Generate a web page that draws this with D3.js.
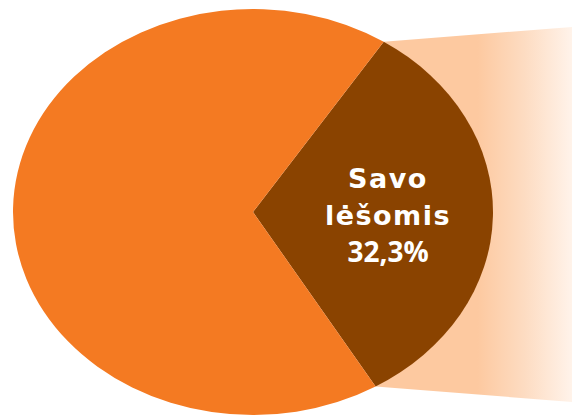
<!DOCTYPE html>
<html>
<head>
	<meta charset="utf-8">
	<title></title>
	<style type="text/css">
		body {
			margin: 0;
			background-color: #fff;
		}
		.viz {
			display: block;
		}
	</style>
</head>
<body>
	<svg class="viz" width="572" height="417"></svg>

	<script src="https://cdn.jsdelivr.net/npm/d3@7/dist/d3.min.js" charset="utf-8"></script>
	<script type="text/javascript">

		// data
		var categories = ['Savo lėšomis', 'Kita'];
		var values = [32.3, 67.7];
		var labelLines = ['Savo', 'lėšomis', '32,3%'];
		var colors = ['#8a4300', '#f47a22'];

		var canvas = d3.select('.viz');
		var width = 572, height = 417;
		var cx = 253, cy = 212;	// pie centre
		var rx = 240, ry = 203;	// ellipse radii
		var start = 33 * Math.PI / 180;	// first slice starts here (clockwise from top)

		var pie = d3.pie().sort(null).startAngle(start).endAngle(start + 2 * Math.PI);
		var arcs = pie(values);
		var arc = d3.arc().innerRadius(0).outerRadius(rx);

		// point on ellipse edge for a pie angle
		var edge = function(a) {
			return [cx + rx * Math.sin(a), cy - ry * Math.cos(a)];
		};

		// gradient band behind the highlighted slice
		var defs = canvas.append('defs');
		var grad = defs.append('linearGradient')
			.attr('id', 'fade')
			.attr('gradientUnits', 'userSpaceOnUse')
			.attr('x1', 375).attr('x2', width)
			.attr('y1', 0).attr('y2', 0);
		grad.append('stop').attr('offset', '0.52').attr('stop-color', '#fdc9a0');
		grad.append('stop').attr('offset', '0.76').attr('stop-color', '#fddcc2');
		grad.append('stop').attr('offset', '1').attr('stop-color', '#fff3ea');

		var p0 = edge(arcs[0].startAngle), p1 = edge(arcs[0].endAngle);
		canvas.append('polygon')
			.attr('fill', 'url(#fade)')
			.attr('points', [p0, [width, 27], [width, 402], p1].map(function(p) {
				return p.join(',');
			}).join(' '));

		// the pie, squashed into an ellipse
		var g = canvas.append('g')
			.attr('transform', 'translate(' + cx + ',' + cy + ') scale(1,' + (ry / rx) + ')');

		g.selectAll('path').data(arcs)
			.enter().append('path')
				.attr('d', arc)
				.attr('fill', function(d, i) {
					return colors[i];
				});

		// label: words are wide, the number is narrower
		canvas.append('text')
			.attr('x', 388)
			.attr('y', 188)
			.attr('text-anchor', 'middle')
			.attr('fill', '#fff')
			.style('font-weight', 'bold')
			.selectAll('tspan').data(labelLines)
			.enter().append('tspan')
				.attr('x', 388)
				.attr('dy', function(d, i) {
					return i === 0 ? 0 : 37;
				})
				.style('font-family', function(d, i) {
					return i < 2 ? '"DejaVu Sans", sans-serif' : '"Open Sans", sans-serif';
				})
				.style('font-size', function(d, i) {
					return i < 2 ? '27px' : '28px';
				})
				.style('letter-spacing', function(d, i) {
					return i < 2 ? '1.5px' : '0px';
				})
				.text(function(d) {
					return d;
				});

	</script>
</body>
</html>
